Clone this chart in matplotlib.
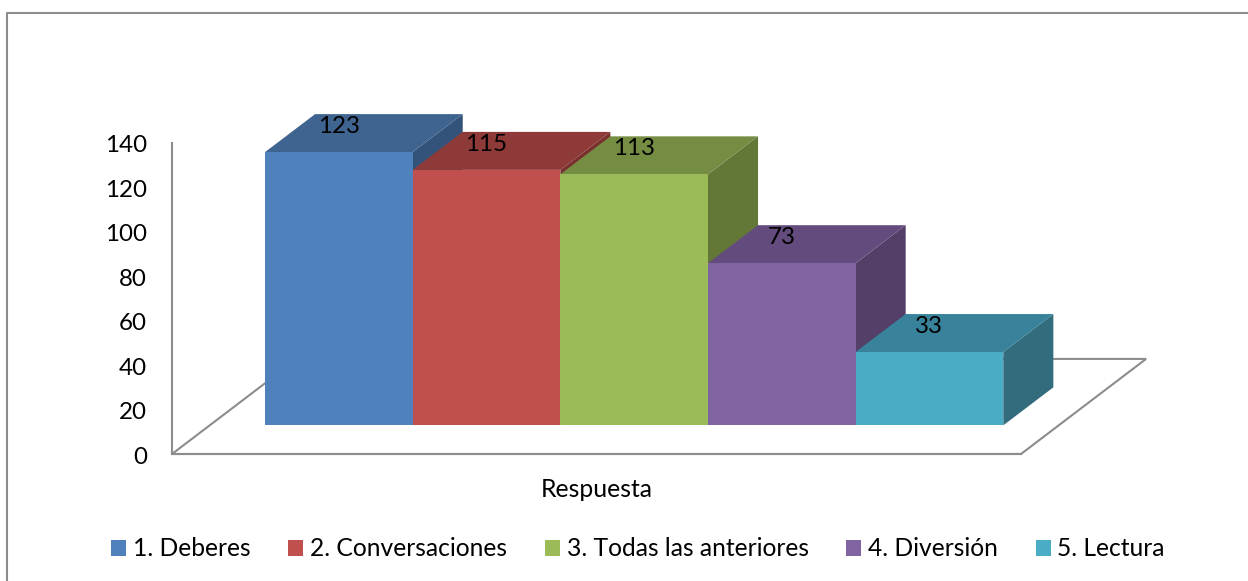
import matplotlib
matplotlib.use('Agg')
import matplotlib.pyplot as plt
from matplotlib.lines import Line2D
from matplotlib.patches import Patch, Polygon
from matplotlib.transforms import ScaledTranslation

# DATA
categories = ['1. Deberes', '2. Conversaciones', '3. Todas las anteriores', '4. Diversión', '5. Lectura']
values = [123, 115, 113, 73, 33]
y_ticks = [0, 20, 40, 60, 80, 100, 120, 140]
x_title = 'Respuesta'

front = ['#4F81BD', '#C0504D', '#9BBB59', '#8064A2', '#4BACC6']
top = ['#3F648F', '#8E3A38', '#758D43', '#634C7D', '#38839B']
side = ['#33537A', '#7A302E', '#637836', '#533F68', '#326C7D']
gray = '#8C8C8C'

W, H = 1248, 581
plt.rcParams['font.family'] = 'Lato'
fig = plt.figure(figsize=(W / 100, H / 100), dpi=100)
ax = fig.add_axes([172 / W, 1 - 454 / H, (1021 - 172) / W, (454 - 143) / H])

# bar units on x, chart values on y
ax.set_xlim(-0.63, 5.12)
ax.set_ylim(0, 140)
ax.set_yticks(y_ticks)
ax.set_xticks([])
ax.tick_params(axis='y', length=0, labelsize=17.4, pad=18)
down = ScaledTranslation(0, -1 / 100, fig.dpi_scale_trans)
for lab in ax.get_yticklabels():
    lab.set_transform(lab.get_transform() + down)
for s in ['top', 'right']:
    ax.spines[s].set_visible(False)
for s in ['left', 'bottom']:
    ax.spines[s].set_color(gray)
    ax.spines[s].set_linewidth(1.5)
ax.set_xlabel(x_title, fontsize=17.8, labelpad=17)

# depth of the boxes and how far they stand from the floor edge
dx, dy = 0.339, 17.1
lift = 12.9

# floor
fx, fy = 0.847, 42.8
x0, x1 = ax.get_xlim()
ax.add_patch(Polygon([(x0, 0), (x1, 0), (x1 + fx, fy), (x0 + fx, fy)], closed=True,
                     fc='white', ec=gray, lw=1.5, clip_on=False, zorder=1))

for i, v in enumerate(values):
    l, r = i, i + 1
    b, t = lift, lift + v
    ax.add_patch(Polygon([(r, b), (r + dx, b + dy), (r + dx, t + dy), (r, t)], closed=True,
                         fc=side[i], ec='none', clip_on=False, zorder=2 + i))
    ax.add_patch(Polygon([(l, t), (r, t), (r + dx, t + dy), (l + dx, t + dy)], closed=True,
                         fc=top[i], ec='none', clip_on=False, zorder=2 + i))
    ax.bar(i + 0.5, v, width=1, bottom=b, color=front[i], clip_on=False, zorder=2 + i)
    ax.text(i + 0.5, t + 11.4, str(v), ha='center', va='center', fontsize=17.4,
            color='black', zorder=20)

handles = [Patch(fc=c, ec='none') for c in front]
fig.legend(handles, categories, loc='center', bbox_to_anchor=(638 / W, 1 - 549 / H), ncol=5,
           frameon=False, fontsize=17.7, handlelength=0.61, handleheight=0.61,
           handletextpad=0.28, columnspacing=1.53, borderpad=0)

# chart border, runs off the picture on the right and at the bottom
fig.add_artist(Line2D([7 / W, 7 / W, 1], [0, 1 - 13 / H, 1 - 13 / H], color=gray, lw=1.5))

fig.savefig('out.png', dpi=100)
